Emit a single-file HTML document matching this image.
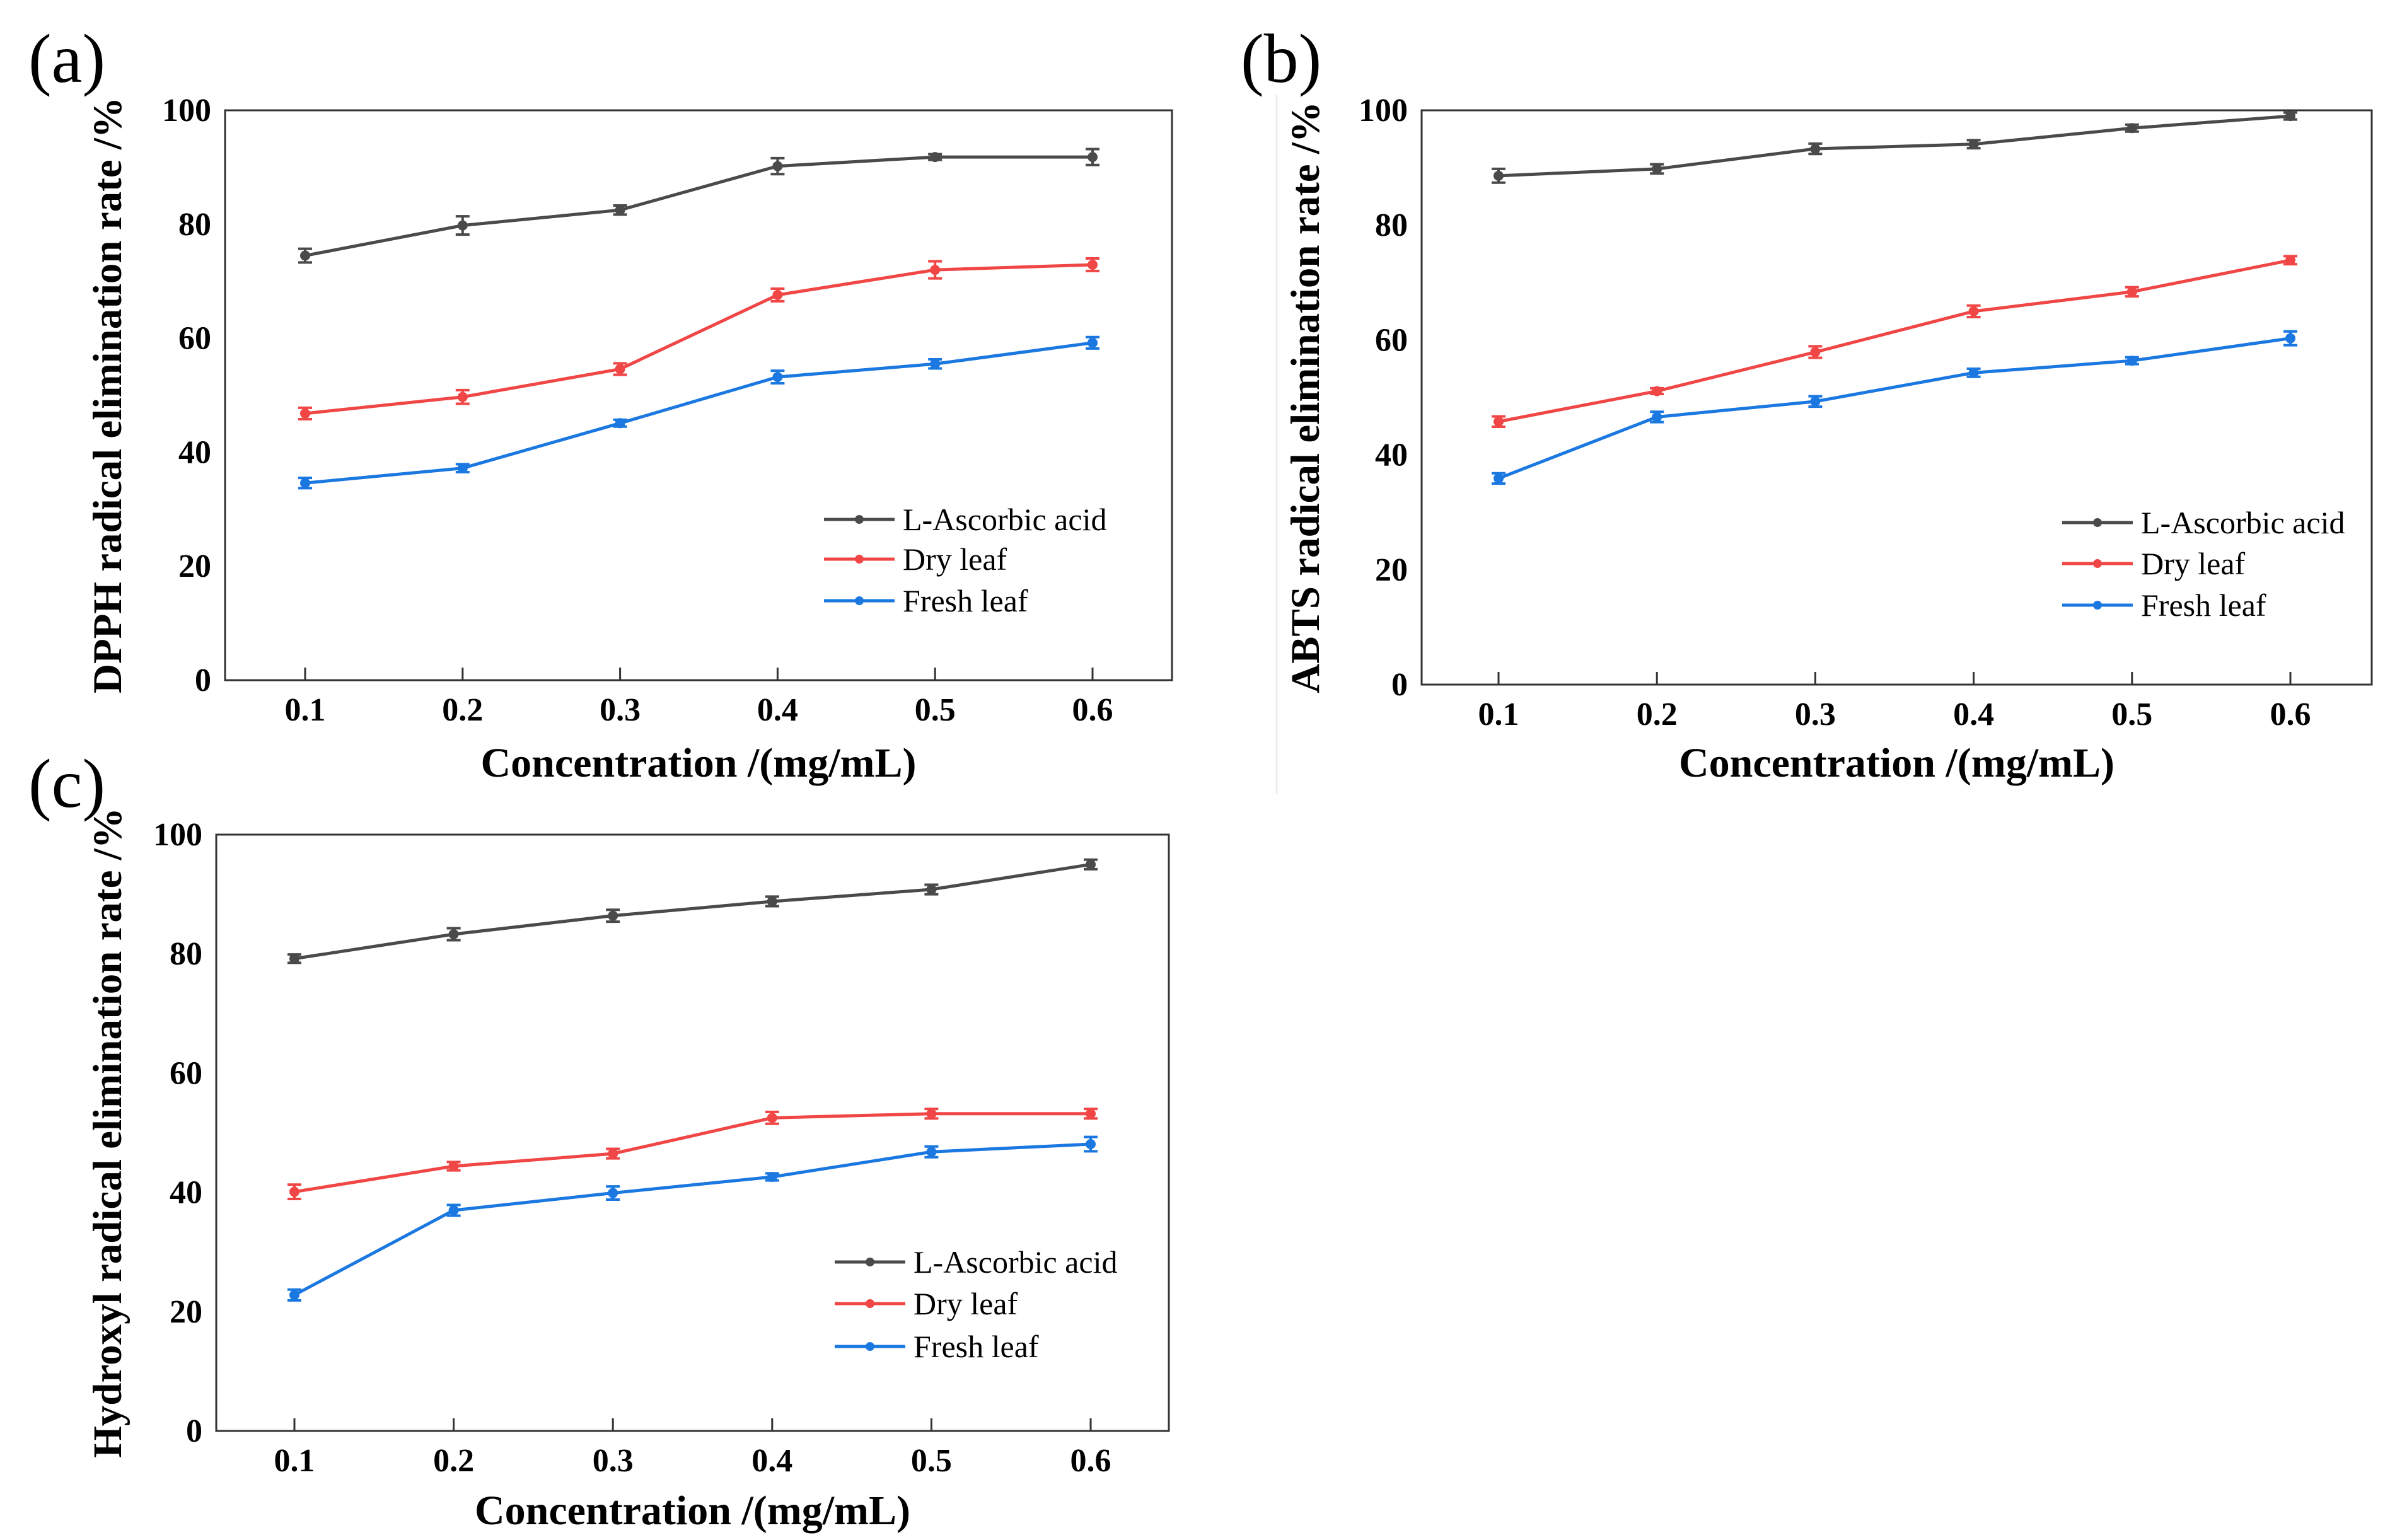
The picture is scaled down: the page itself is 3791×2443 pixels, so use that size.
<!DOCTYPE html>
<html><head><meta charset="utf-8"><style>
html,body{margin:0;padding:0;background:#fff;}
svg{display:block;font-family:"Liberation Serif",serif;}
</style></head><body>
<svg id="fig" width="3791" height="2443" viewBox="0 0 3791 2443">
<line x1="2025" y1="150" x2="2025" y2="1260" stroke="#eee" stroke-width="3"/>
</svg>
<script>
const categories = ["0.1","0.2","0.3","0.4","0.5","0.6"];
const yTicks = [0,20,40,60,80,100];
const seriesNames = ["L-Ascorbic acid","Dry leaf","Fresh leaf"];
const seriesColors = ["#4a4a4a","#f04646","#1a78e0"];
const aAscorbic = [74.5,79.8,82.5,90.2,91.8,91.8];
const aDry = [46.8,49.7,54.6,67.6,72.0,72.9];
const aFresh = [34.6,37.2,45.1,53.2,55.5,59.2];
const aAscorbicErr = [1.2,1.6,0.8,1.4,0.5,1.4];
const aDryErr = [1.0,1.2,1.0,1.1,1.5,1.1];
const aFreshErr = [0.9,0.7,0.6,1.1,0.8,1.0];
const bAscorbic = [88.6,89.8,93.3,94.1,96.9,99.0];
const bDry = [45.8,51.1,57.9,65.0,68.4,73.9];
const bFresh = [35.9,46.6,49.3,54.3,56.4,60.3];
const bAscorbicErr = [1.2,0.8,0.9,0.7,0.6,0.6];
const bDryErr = [0.9,0.5,1.0,1.0,0.8,0.7];
const bFreshErr = [0.9,0.9,0.9,0.7,0.6,1.2];
const cAscorbic = [79.2,83.3,86.4,88.8,90.8,95.0];
const cDry = [40.1,44.4,46.5,52.5,53.2,53.2];
const cFresh = [22.8,37.0,39.9,42.6,46.8,48.1];
const cAscorbicErr = [0.7,1.0,1.0,0.8,0.8,0.8];
const cDryErr = [1.2,0.7,0.8,1.0,0.8,0.8];
const cFreshErr = [0.9,0.9,1.1,0.6,0.9,1.2];

const NS="http://www.w3.org/2000/svg";
const svg=document.getElementById('fig');
function mk(tag,attrs,parent,text){const e=document.createElementNS(NS,tag);for(const k in attrs)e.setAttribute(k,attrs[k]);if(text!==undefined)e.textContent=text;(parent||svg).appendChild(e);return e;}

const panels=[
 {id:'a',label:'(a)',lx:45,ly:130,L:357,R:1859,T:175,B:1079,x0:484,x1:1733,ytitle:'DPPH radical elimination rate /%',ytx:192,xty:1232,
  legX:1307,legY:[824,887,953],vals:[aAscorbic,aDry,aFresh],errs:[aAscorbicErr,aDryErr,aFreshErr]},
 {id:'b',label:'(b)',lx:1968,ly:130,L:2255,R:3762,T:175,B:1086,x0:2377,x1:3633,ytitle:'ABTS radical elimination rate /%',ytx:2092,xty:1232,
  legX:3271,legY:[829,894,960],vals:[bAscorbic,bDry,bFresh],errs:[bAscorbicErr,bDryErr,bFreshErr]},
 {id:'c',label:'(c)',lx:45,ly:1280,L:343,R:1854,T:1324,B:2270,x0:467,x1:1730,ytitle:'Hydroxyl radical elimination rate /%',ytx:192,xty:2418,
  legX:1324,legY:[2002,2068,2136],vals:[cAscorbic,cDry,cFresh],errs:[cAscorbicErr,cDryErr,cFreshErr]}
];

panels.forEach(p=>{
  const g=mk('g',{});
  
  
  const xs=i=>p.x0+(p.x1-p.x0)*i/(categories.length-1);
  const ys=v=>p.B-(p.B-p.T)*v/100;
  const lab=mk('text',{x:p.lx,y:p.ly,'font-size':110},g,p.label);
  
  
  const frame=mk('rect',{x:p.L,y:p.T,width:p.R-p.L,height:p.B-p.T,fill:'none',stroke:'#333','stroke-width':3},g);
  
  
  yTicks.forEach(t=>{
    const tl=mk('text',{x:p.L-22,y:ys(t)+17,'font-size':52,'font-weight':'bold','text-anchor':'end'},g,String(t));
    
    
  });
  categories.forEach((c,i)=>{
    const tk=mk('line',{x1:xs(i),y1:p.B,x2:xs(i),y2:p.B-20,stroke:'#333','stroke-width':3},g);
    
    
    const tl=mk('text',{x:xs(i),y:p.B+64,'font-size':52,'font-weight':'bold','text-anchor':'middle'},g,c);
    
    
  });
  const xt=mk('text',{x:(p.L+p.R)/2,y:p.xty,'font-size':66,'font-weight':'bold','text-anchor':'middle'},g,'Concentration /(mg/mL)');
  
  
  const yt=mk('text',{x:0,y:0,'font-size':65,'font-weight':'bold','text-anchor':'middle',transform:`translate(${p.ytx},${(p.T+p.B)/2}) rotate(-90)`},g,p.ytitle);
  
  
  p.vals.forEach((vals,s)=>{
    const col=seriesColors[s];
    const pts=vals.map((v,i)=>xs(i)+','+ys(v)).join(' ');
    const pl=mk('polyline',{points:pts,fill:'none',stroke:col,'stroke-width':5},g);
    
    
    vals.forEach((v,i)=>{
      const e=p.errs[s][i];
      const x=xs(i),y1=ys(v+e),y2=ys(v-e);
      const eb=mk('path',{d:`M${x},${y1}V${y2}M${x-11},${y1}H${x+11}M${x-11},${y2}H${x+11}`,stroke:col,'stroke-width':4,fill:'none'},g);
      
      
      const pt=mk('circle',{cx:x,cy:ys(v),r:8,fill:col},g);
      
      
    });
    const ly=p.legY[s];
    const leg=mk('g',{},g);
    
    
    mk('line',{x1:p.legX,y1:ly,x2:p.legX+112,y2:ly,stroke:col,'stroke-width':5},leg);
    mk('circle',{cx:p.legX+56,cy:ly,r:7,fill:col},leg);
    mk('text',{x:p.legX+125,y:ly+17,'font-size':50},leg,seriesNames[s]);
  });
});
</script>
</body></html>
